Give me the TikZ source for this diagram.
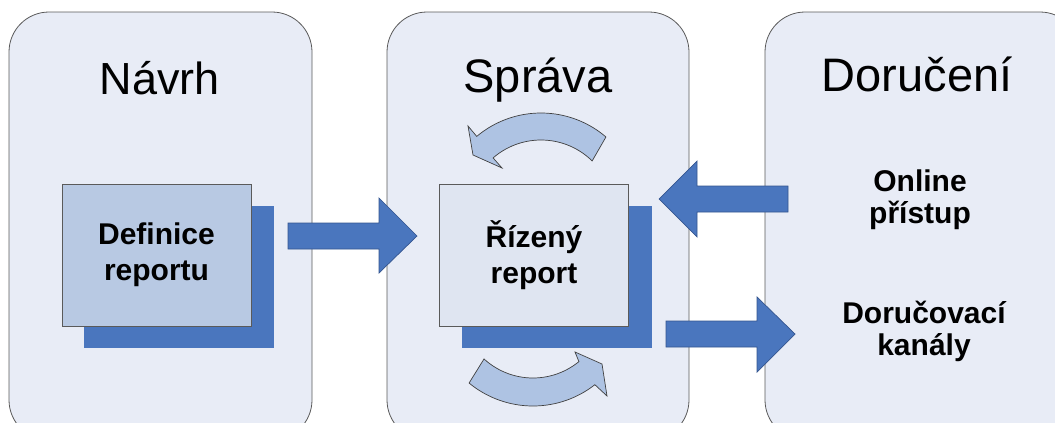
\documentclass[tikz,border=0pt]{standalone}
\usepackage{fontspec}
\setmainfont{Liberation Sans}
\definecolor{panelc}{HTML}{E8ECF6}
\definecolor{paneld}{HTML}{5A5A5A}
\definecolor{blue}{HTML}{4A76BE}
\definecolor{blued}{HTML}{34558F}
\definecolor{boxa}{HTML}{B8C9E3}
\definecolor{boxb}{HTML}{DFE5F1}
\definecolor{curvc}{HTML}{AEC3E3}
\tikzset{
  panel/.style={fill=panelc, draw=paneld, line width=0.8pt, rounded corners=40pt},
  title/.style={font=\fontsize{47}{52}\selectfont, inner sep=0pt, anchor=base},
  card/.style={draw=paneld, line width=0.8pt, minimum width=189pt, minimum height=142pt, inner sep=0pt,
               align=center, font=\bfseries\fontsize{30}{36}\selectfont},
  shadowbox/.style={fill=blue},
  blockarrow/.style={fill=blue, draw=blued, line width=0.7pt, line join=miter},
  curvearrow/.style={fill=curvc, draw=black!75, line width=0.7pt, line join=miter},
  label/.style={align=center, font=\bfseries\fontsize{30}{32}\selectfont, inner sep=0pt},
}
\begin{document}
\begin{tikzpicture}[x=1pt, y=-1pt]
\useasboundingbox (0,0) rectangle (1055,423);
\clip (0,0) rectangle (1055,423);
% panels
\draw[panel] (9,12) rectangle (312,440);
\draw[panel] (387,12) rectangle (689,440);
\draw[panel] (765,12) rectangle (1080,440);
% titles
\node[title, font=\fontsize{45}{50}\selectfont] (t1) at (160,94) {Návrh};
\node[title] (t2) at (538,92) {Správa};
\node[title] (t3) at (917,91) {Doručení};
% shadows
\fill[shadowbox] (84,206) rectangle (274,348);
\fill[shadowbox] (462,206) rectangle (652,348);
% cards
\node[card, fill=boxa] (def) at (156.5,255) {Definice\\reportu};
\node[card, fill=boxb] (riz) at (534,255) {Řízený\\report};
% right labels
\node[label] (online) at (920,200) {Online\\přístup};
\node[label] (kanaly) at (924,331) {Doručovací\\kanály};
% block arrows
\draw[blockarrow] (288,223) -- (379,223) -- (379,198) -- (417,236) -- (379,273) -- (379,249) -- (288,249) -- cycle;
\draw[blockarrow] (788,186) -- (697,186) -- (697,161) -- (659,199) -- (697,237) -- (697,212) -- (788,212) -- cycle;
\draw[blockarrow] (666,321) -- (757,321) -- (757,297) -- (795,334) -- (757,372) -- (757,347) -- (666,347) -- cycle;
% curved arrows
\draw[curvearrow]
  plot[smooth, domain=49.5:130, samples=30] ({541+100*cos(\x)},{213-100*sin(\x)})
  -- (468,126) -- (473,155) -- (502,168)
  -- plot[smooth, domain=131:45.5, samples=30] ({541+73*cos(\x)},{213-73*sin(\x)})
  -- cycle;
\draw[curvearrow]
  plot[smooth, domain=132.5:50.7, samples=30] ({533+72.5*cos(\x)},{305.5+72.5*sin(\x)})
  -- (575,352) -- (602,364) -- (607,396)
  -- plot[smooth, domain=52:129.5, samples=30] ({533+100.5*cos(\x)},{305.5+100.5*sin(\x)})
  -- cycle;
\end{tikzpicture}
\end{document}
